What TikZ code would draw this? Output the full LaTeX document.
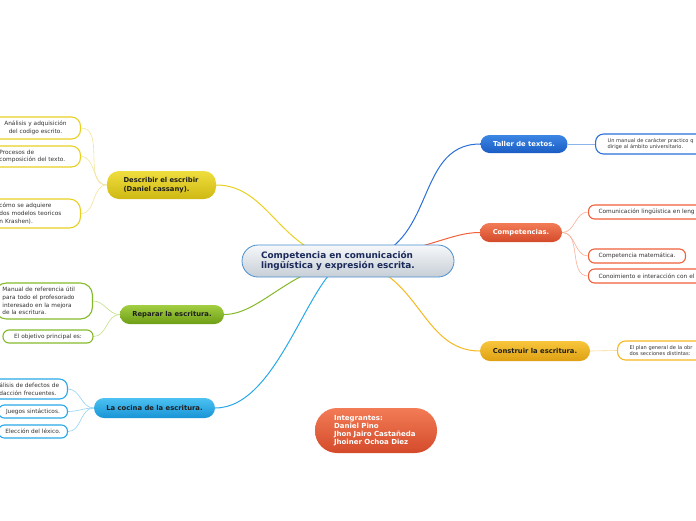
\documentclass[tikz,border=0pt]{standalone}
\usepackage{fontspec}
\setmainfont{DejaVu Sans}
\usepackage{tikz}
\pgfdeclarelayer{edgelayer}
\pgfdeclarelayer{nodelayer}
\pgfsetlayers{edgelayer,nodelayer,main}
\definecolor{rootline}{HTML}{4A8ED0}
\definecolor{rootup}{HTML}{F6F8FA}
\definecolor{rootdown}{HTML}{C6CED6}
\definecolor{roottext}{HTML}{1A2A5A}
\definecolor{darktext}{HTML}{1E1E1E}
\definecolor{leaftext}{HTML}{333333}
\definecolor{blueup}{HTML}{3C86E4}
\definecolor{bluedown}{HTML}{1A5CC4}
\definecolor{blueline}{HTML}{2A6FD8}
\definecolor{bluelight}{HTML}{8CB4EC}
\definecolor{redup}{HTML}{F27C56}
\definecolor{reddown}{HTML}{D44A2A}
\definecolor{redline}{HTML}{F0603A}
\definecolor{redlight}{HTML}{F8AE98}
\definecolor{orangeup}{HTML}{F8C63C}
\definecolor{orangedown}{HTML}{DEA012}
\definecolor{orangeline}{HTML}{F6B820}
\definecolor{orangelight}{HTML}{F8D890}
\definecolor{yellowup}{HTML}{EEDE3E}
\definecolor{yellowdown}{HTML}{CFB812}
\definecolor{yellowline}{HTML}{E8D020}
\definecolor{yellowlight}{HTML}{F0E49A}
\definecolor{greenup}{HTML}{A2CE42}
\definecolor{greendown}{HTML}{6E9E16}
\definecolor{greenline}{HTML}{84BA2A}
\definecolor{greenlight}{HTML}{C2DE86}
\definecolor{cyanup}{HTML}{4CC2F2}
\definecolor{cyandown}{HTML}{1894D6}
\definecolor{cyanline}{HTML}{28A8E8}
\definecolor{cyanlight}{HTML}{94D2F2}
\tikzstyle{root}=[rectangle, rounded corners=16pt, draw=rootline, line width=0.8pt, top color=rootup, bottom color=rootdown, text=roottext, font=\fontsize{8.9}{10.6}\selectfont\bfseries, align=left, text width=174pt, inner xsep=19pt, minimum height=32pt]
\tikzstyle{branch}=[rectangle, rounded corners=9.5pt, inner sep=0pt, minimum height=19pt, font=\fontsize{6.8}{8.8}\selectfont\bfseries, align=center]
\tikzstyle{leaf}=[rectangle, rounded corners=6pt, fill=white, line width=1.1pt, text=leaftext, font=\fontsize{5.8}{7.6}\selectfont, inner ysep=0pt, minimum height=13pt]
\tikzstyle{smallleaf}=[leaf, font=\fontsize{5.1}{6.6}\selectfont]
\tikzstyle{mainedge}=[line width=1pt]
\tikzstyle{subedge}=[line width=0.6pt]

\begin{document}
\begin{tikzpicture}[x=1pt, y=-1pt]
			\useasboundingbox (0,0) rectangle (696,520);
						\begin{pgfonlayer}{nodelayer}
							\node [style=root] (0) at (348,261) {Competencia en comunicación\\lingüística y expresión escrita.};
							\node [style=branch, top color=blueup, bottom color=bluedown, text=white, minimum width=87pt, minimum height=18pt, rounded corners=9pt] (1) at (524,144) {Taller de textos.};
							\node [style=branch, top color=redup, bottom color=reddown, text=white, minimum width=82pt] (2) at (521,232.5) {Competencias.};
							\node [style=branch, top color=orangeup, bottom color=orangedown, text=darktext, minimum width=110pt, minimum height=20pt, rounded corners=10pt] (3) at (535,351) {Construir la escritura.};
							\node [style=branch, top color=yellowup, bottom color=yellowdown, text=darktext, text width=76pt, align=left, inner xsep=16.5pt, minimum height=28pt, rounded corners=12pt] (4) at (161.5,185) {Describir el escribir\\(Daniel cassany).};
							\node [style=branch, top color=greenup, bottom color=greendown, text=darktext, minimum width=104pt] (5) at (172,314.5) {Reparar la escritura.};
							\node [style=branch, top color=cyanup, bottom color=cyandown, text=darktext, minimum width=121pt, minimum height=20pt, rounded corners=10pt] (6) at (154.5,408) {La cocina de la escritura.};
							\node [style=branch, top color=redup, bottom color=reddown, text=white, text width=84pt, align=left, inner xsep=19pt, minimum height=45pt, rounded corners=22pt, font=\fontsize{7}{8.2}\selectfont\bfseries] (7) at (376,430.5) {Integrantes:\\Daniel Pino\\Jhon Jairo Castañeda\\Jhoiner Ochoa Diez};
							\node [style=smallleaf, draw=blueline, anchor=west, text width=130pt, align=left, inner xsep=12pt, minimum height=20pt, rounded corners=8pt] (11) at (595,144) {Un manual de carácter practico q\\dirige al ámbito universitario.};
							\node [style=leaf, draw=redline, anchor=west, text width=130pt, align=left, inner xsep=10pt, minimum height=14pt] (21) at (588,212) {Comunicación lingüística en leng};
							\node [style=leaf, draw=redline, anchor=west, inner xsep=10pt, minimum height=14pt] (22) at (588,256) {Competencia matemática.};
							\node [style=leaf, draw=redline, anchor=west, text width=130pt, align=left, inner xsep=10pt, minimum height=14pt] (23) at (588,276) {Conoimiento e interacción con el};
							\node [style=smallleaf, draw=orangeline, anchor=west, text width=130pt, align=left, inner xsep=12pt, minimum height=19pt, rounded corners=8pt] (31) at (617,350.5) {El plan general de la obr\\dos secciones distintas:};
							\node [style=leaf, draw=yellowline, anchor=east, text width=70pt, align=center, inner xsep=10pt, minimum height=22pt, rounded corners=9pt] (41) at (81,128) {Análisis y adquisición\\del codigo escrito.};
							\node [style=leaf, draw=yellowline, anchor=east, text width=71pt, align=left, inner xsep=10pt, minimum height=21pt, rounded corners=9pt] (42) at (81,156.5) {Procesos de\\composición del texto.};
							\node [style=leaf, draw=yellowline, anchor=east, text width=71pt, align=left, inner xsep=10pt, minimum height=29pt, rounded corners=11pt] (43) at (81,213.5) {cómo se adquiere\\dos modelos teoricos\\n Krashen).};
							\node [style=leaf, draw=greenline, anchor=east, text width=82pt, align=left, inner xsep=8pt, minimum height=36pt, rounded corners=12pt] (51) at (93,301) {Manual de referencia útil\\para todo el profesorado\\interesado en la mejora\\de la escritura.};
							\node [style=leaf, draw=greenline, minimum width=90pt] (52) at (48,336.5) {El objetivo principal es:};
							\node [style=leaf, draw=cyanline, anchor=east, text width=60pt, align=left, inner xsep=8pt, minimum height=20pt, rounded corners=8pt] (61) at (68,389) {álisis de defectos de\\dacción frecuentes.};
							\node [style=leaf, draw=cyanline, anchor=east, minimum width=69pt] (62) at (68,411.5) {Juegos sintácticos.};
							\node [style=leaf, draw=cyanline, anchor=east, minimum width=69pt] (63) at (68,431.5) {Elección del léxico.};
						\end{pgfonlayer}
						\begin{pgfonlayer}{edgelayer}
							\draw [style=mainedge, draw=blueline] (0.center) .. controls (440,260) and (410,144) .. (1.west);
							\draw [style=mainedge, draw=redline] (0.center) .. controls (430,250) and (450,232.5) .. (2.west);
							\draw [style=mainedge, draw=orangeline] (0.center) .. controls (420,268) and (420,351) .. (3.west);
							\draw [style=mainedge, draw=yellowline] (0.center) .. controls (280,255) and (270,185) .. (4.east);
							\draw [style=mainedge, draw=greenline] (0.center) .. controls (290,268) and (260,314.5) .. (5.east);
							\draw [style=mainedge, draw=cyanline] (0.center) .. controls (310,268) and (280,408) .. (6.east);
							\draw [style=subedge, draw=bluelight] (1.east) -- (11.west);
							\draw [style=subedge, draw=redlight] (2.east) to [out=0, in=180] (21.west);
							\draw [style=subedge, draw=redlight] (2.east) to [out=0, in=180] (22.west);
							\draw [style=subedge, draw=redlight] (2.east) to [out=0, in=180] (23.west);
							\draw [style=subedge, draw=orangelight] (3.east) -- (31.west);
							\draw [style=subedge, draw=yellowlight] (4.west) to [out=180, in=0] (41.east);
							\draw [style=subedge, draw=yellowlight] (4.west) to [out=180, in=0] (42.east);
							\draw [style=subedge, draw=yellowlight] (4.west) to [out=180, in=0] (43.east);
							\draw [style=subedge, draw=greenlight] (5.west) to [out=180, in=0] (51.east);
							\draw [style=subedge, draw=greenlight] (5.west) to [out=180, in=0] (52.east);
							\draw [style=subedge, draw=cyanlight] (6.west) to [out=180, in=0] (61.east);
							\draw [style=subedge, draw=cyanlight] (6.west) to [out=180, in=0] (62.east);
							\draw [style=subedge, draw=cyanlight] (6.west) to [out=180, in=0] (63.east);
						\end{pgfonlayer}
					\end{tikzpicture}
\end{document}
